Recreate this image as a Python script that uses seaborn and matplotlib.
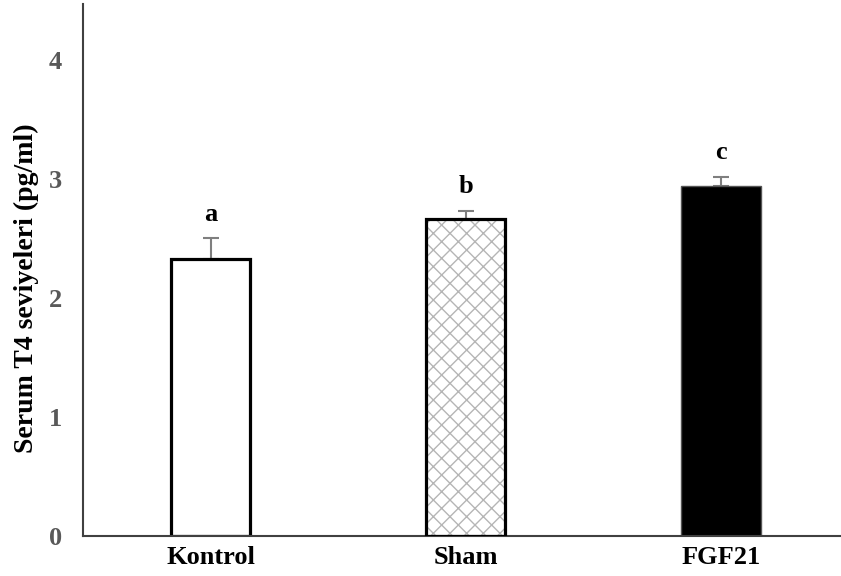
import matplotlib
matplotlib.use("Agg")
import matplotlib.pyplot as plt
import seaborn as sns
import pandas as pd

groups = ["Kontrol", "Sham", "FGF21"]
means = [2.33, 2.66, 2.94]
errors = [0.17, 0.07, 0.08]
letters = ["a", "b", "c"]
yticks = [0, 1, 2, 3, 4]

sns.set_style("white")
plt.rcParams['font.family'] = ['Liberation Serif', 'DejaVu Serif']
plt.rcParams['hatch.linewidth'] = 1.0

df = pd.DataFrame({"group": groups, "value": means})

fig = plt.figure(figsize=(8.41, 5.76), dpi=100)
ax = fig.add_axes([83/841, 40/576, (841-83)/841, (536-4)/576])

sns.barplot(data=df, x="group", y="value", order=groups, ax=ax, width=0.31,
            errorbar=None, color="white")

facecolors = ["white", "white", "black"]
edgecolors = ["black", "black", "#555555"]
lws = [2.3, 2.3, 1.0]
bars = list(ax.patches)
for p, fc, ec, lw in zip(bars, facecolors, edgecolors, lws):
    p.set_facecolor(fc)
    p.set_edgecolor(ec)
    p.set_linewidth(lw)
    p.set_zorder(2)

# hatch layer for Sham (light gray crosshatch under black outline)
sham = bars[1]
hatch_rect = plt.Rectangle(sham.get_xy(), sham.get_width(), sham.get_height(),
                           facecolor="white", edgecolor="#b5b5b5", hatch="xx",
                           linewidth=0, zorder=1.5)
ax.add_patch(hatch_rect)
sham.set_facecolor("none")
sham.set_zorder(3)

xs = list(range(len(groups)))
ax.errorbar(xs, means, yerr=[[0]*len(means), errors], fmt="none",
            ecolor="#7f7f7f", elinewidth=1.5, capsize=6, capthick=1.5, zorder=1)

for x, m, e, t in zip(xs, means, errors, letters):
    ax.text(x, m + e + 0.15, t, ha="center", va="baseline", fontsize=19,
            fontweight="bold", color="black")

ax.set_xlim(-0.5, 2.47)
ax.set_ylim(0, 4.47)
ax.set_yticks(yticks)
ax.set_yticklabels([str(v) for v in yticks], fontsize=19, fontweight="bold", color="#595959")
ax.set_xticks(xs)
ax.set_xticklabels(groups, fontsize=19, fontweight="bold", color="black")
ax.tick_params(axis="y", length=0, pad=15)
ax.tick_params(axis="x", length=0, pad=7)
ax.set_xlabel("")
ax.set_ylabel("Serum T4 seviyeleri (pg/ml)", fontsize=20, fontweight="bold", color="black")
ax.yaxis.set_label_coords(-0.058, 0.466)

for s in ["top", "right"]:
    ax.spines[s].set_visible(False)
for s in ["left", "bottom"]:
    ax.spines[s].set_color("#404040")
    ax.spines[s].set_linewidth(1.5)

fig.savefig("out.png", dpi=100)
